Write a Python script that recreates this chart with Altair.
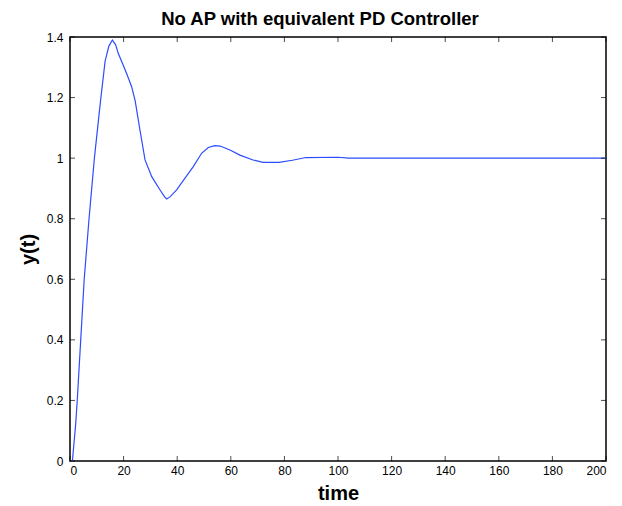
import altair as alt
import pandas as pd

# Step response
t = [0, 0.9, 2.1, 2.7, 4.0, 5.3, 7.1, 9.1, 11.4, 13.1, 14.5, 15.8, 17.0, 18.0, 21.1, 23.0,
     24.3, 26.1, 28.0, 30.5, 33.6, 35.3, 36.1, 37.3, 39.8, 42.9, 46.0, 49.1, 51.6, 54.0, 56.0, 59.7,
     63.4, 68.3, 72.0, 78.0, 83.0, 88.0, 100.0, 104.0, 200.0]
y = [0, 0.0, 0.12, 0.2, 0.4, 0.6, 0.8, 1.0, 1.19, 1.32, 1.37, 1.39, 1.375, 1.346, 1.28, 1.236,
     1.19, 1.093, 0.994, 0.939, 0.895, 0.872, 0.865, 0.872, 0.895, 0.934, 0.972, 1.016, 1.035, 1.041, 1.04, 1.027,
     1.01, 0.994, 0.986, 0.986, 0.993, 1.002, 1.003, 1.0, 1.0]

x_ticks = [0, 20, 40, 60, 80, 100, 120, 140, 160, 180, 200]
y_ticks = [0, 0.2, 0.4, 0.6, 0.8, 1, 1.2, 1.4]

title_text = "No AP with equivalent PD Controller"
x_title = "time"
y_title = "y(t)"

df = pd.DataFrame({"t": t, "y": y})
xt = pd.DataFrame({"v": x_ticks})
yt = pd.DataFrame({"v": y_ticks})

W, H = 536, 424
FONT = "Liberation Sans, Arial, Helvetica, sans-serif"
xscale = alt.Scale(domain=[0, 200], nice=False, zero=False)
yscale = alt.Scale(domain=[0, 1.4], nice=False, zero=False)

xaxis = alt.Axis(values=x_ticks, title=x_title, format="d", ticks=False,
                 domain=False, grid=False, labelPadding=4, titlePadding=7,
                 labelFontSize=12, titleFontSize=20, titleFontWeight="bold")
yaxis = alt.Axis(values=y_ticks, title=y_title, format="~g", ticks=False,
                 domain=False, grid=False, labelPadding=7, titlePadding=8,
                 labelFontSize=12, titleFontSize=20, titleFontWeight="bold")

line = alt.Chart(df).mark_line(color="#2b4cff", strokeWidth=1.2, clip=True).encode(
    x=alt.X("t:Q", scale=xscale, axis=xaxis),
    y=alt.Y("y:Q", scale=yscale, axis=yaxis),
)

tick_style = dict(color="black", size=5, thickness=1)
bottom = alt.Chart(xt).mark_tick(**tick_style).encode(
    x=alt.X("v:Q", scale=xscale, axis=xaxis), y=alt.value(H - 2.5))
top = alt.Chart(xt).mark_tick(**tick_style).encode(
    x=alt.X("v:Q", scale=xscale, axis=xaxis), y=alt.value(2.5))
left = alt.Chart(yt).mark_tick(**tick_style).encode(
    y=alt.Y("v:Q", scale=yscale, axis=yaxis), x=alt.value(2.5))
right = alt.Chart(yt).mark_tick(**tick_style).encode(
    y=alt.Y("v:Q", scale=yscale, axis=yaxis), x=alt.value(W - 2.5))

chart = alt.layer(line, bottom, top, left, right).properties(
    width=W, height=H,
    background="white",
    title=alt.TitleParams(title_text, fontSize=18.5, font=FONT, fontWeight="bold",
                          offset=3, dx=-18, anchor="middle", color="black"),
    padding={"left": 62, "top": 29, "right": 8, "bottom": 45},
    autosize=alt.AutoSizeParams(type="none"),
).configure_view(stroke="#000000", strokeWidth=1.5, strokeOpacity=1).configure_axis(
    labelFont=FONT, titleFont=FONT, labelColor="black", titleColor="black"
)

chart.save("out.html", embed_options={"renderer": "svg", "actions": False})
